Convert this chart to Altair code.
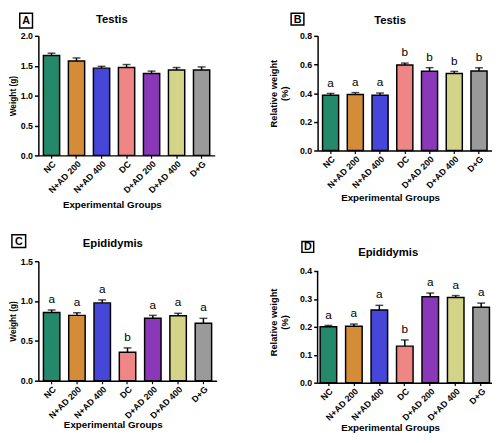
import altair as alt
import pandas as pd

FONT = "Liberation Sans"

groups = ["NC", "N+AD 200", "N+AD 400", "DC", "D+AD 200", "D+AD 400", "D+G"]

# Panel A: Testis weight (g)
a_mean = [1.67, 1.58, 1.46, 1.47, 1.37, 1.43, 1.43]
a_err = [0.04, 0.05, 0.03, 0.05, 0.04, 0.04, 0.05]
a_sig = ["", "", "", "", "", "", ""]

# Panel B: Testis relative weight (%)
b_mean = [0.386, 0.391, 0.386, 0.597, 0.553, 0.537, 0.555]
b_err = [0.012, 0.013, 0.015, 0.013, 0.025, 0.015, 0.022]
b_sig = ["a", "a", "a", "b", "b", "b", "b"]

# Panel C: Epididymis weight (g)
c_mean = [0.857, 0.820, 0.977, 0.358, 0.783, 0.816, 0.721]
c_err = [0.030, 0.033, 0.037, 0.054, 0.037, 0.030, 0.062]
c_sig = ["a", "a", "a", "b", "a", "a", "a"]

# Panel D: Epididymis relative weight (%)
d_mean = [0.200, 0.202, 0.260, 0.131, 0.308, 0.305, 0.270]
d_err = [0.005, 0.008, 0.017, 0.022, 0.013, 0.007, 0.015]
d_sig = ["a", "a", "a", "b", "a", "a", "a"]

colors_light = ["#23896a", "#d48c38", "#4646d8", "#f08585", "#8a38b8", "#d4d488", "#9a9a9a"]
colors_red = ["#23896a", "#d48c38", "#4646d8", "#e53935", "#8a38b8", "#d4d488", "#9a9a9a"]

panel_titles = ["Testis", "Testis", "Epididymis", "Epididymis"]
panel_letters = ["A", "B", "C", "D"]
y_titles = ["Weight (g)", ["Relative weight", "(%)"], "Weight (g)", ["Relative weight", "(%)"]]
x_title = "Experimental Groups"


def make_panel(mean, err, sig, colors, yvals, ytitle, ytsize, ytpad, title, letter,
               w, h, tpos, box, xty, top_extra=0, pad_outer=0.2):
    df = pd.DataFrame({"group": groups, "mean": mean, "err": err, "sig": sig})
    df["hi"] = df["mean"] + df["err"]
    ymax = yvals[-1]
    dtop = ymax * h / (h - top_extra)
    base = alt.Chart(df)
    xenc = alt.X(
        "group:N", sort=groups,
        scale=alt.Scale(paddingInner=0.35, paddingOuter=pad_outer),
        axis=alt.Axis(
            title=x_title, labelAngle=-45, labelOverlap=False,
            labelFontSize=9, labelFontWeight="bold", labelPadding=1,
            tickSize=3, tickWidth=1.2, tickColor="black",
            domainColor="black", domainWidth=1.5,
            titleFontSize=10, titleFontWeight="bold",
            titleX=w / 2 - 15, titleY=xty, titleBaseline="alphabetic",
            titleAlign="center",
        ),
    )
    yenc = alt.Y(
        "mean:Q",
        scale=alt.Scale(domain=[0, dtop], nice=False, zero=True),
        axis=alt.Axis(
            values=yvals, tickCount=len(yvals) + 2, format=".1f", title=ytitle, grid=False,
            labelOverlap=False, labelFlush=False,
            domain=(top_extra == 0), domainColor="black", domainWidth=1.5,
            tickSize=4, tickWidth=1.5, tickColor="black",
            labelFontSize=9, labelFontWeight="bold", labelPadding=2,
            titleFontSize=ytsize, titleFontWeight="bold", titlePadding=ytpad,
        ),
    )
    bars = base.mark_bar(stroke="black", strokeWidth=1.5).encode(
        x=xenc, y=yenc,
        fill=alt.Fill("group:N", scale=alt.Scale(domain=groups, range=colors), legend=None),
    )
    xs = alt.X("group:N", sort=groups)
    errs = base.mark_rule(color="black", strokeWidth=1.5).encode(x=xs, y="mean:Q", y2="hi:Q")
    caps = base.mark_tick(color="black", thickness=1.5, size=8).encode(x=xs, y="hi:Q")
    layers = [bars, errs, caps]
    if any(sig):
        layers.append(
            base.mark_text(baseline="bottom", dy=-4, fontSize=12, font=FONT, color="black")
            .encode(x=xs, y="hi:Q", text="sig:N")
        )
    if top_extra:
        axdf = pd.DataFrame({"lo": [yvals[0]], "top": [ymax]})
        layers.append(
            alt.Chart(axdf).mark_rule(color="black", strokeWidth=1.5)
            .encode(x=alt.value(0), y="lo:Q", y2="top:Q")
        )
    ann = alt.Chart(pd.DataFrame({"title": [title], "letter": [letter]}))
    layers.append(
        ann.mark_text(fontSize=11.5, fontWeight="bold", font=FONT, align="center",
                      baseline="alphabetic", color="black")
        .encode(x=alt.value(tpos[0]), y=alt.value(tpos[1]), text="title:N")
    )
    layers.append(
        ann.mark_rect(fill="white", stroke="black", strokeWidth=1.5)
        .encode(x=alt.value(box[0]), x2=alt.value(box[1]), y=alt.value(box[2]), y2=alt.value(box[3]))
    )
    layers.append(
        ann.mark_text(fontSize=11, fontWeight="bold", font=FONT, align="center",
                      baseline="middle", color="black")
        .encode(x=alt.value((box[0] + box[1]) / 2), y=alt.value((box[2] + box[3]) / 2 + 0.5),
                text="letter:N")
    )
    return alt.layer(*layers).properties(width=w, height=h)


pA = make_panel(a_mean, a_err, a_sig, colors_light, [0.0, 0.5, 1.0, 1.5, 2.0],
                y_titles[0], 8.5, 3, panel_titles[0], panel_letters[0],
                180, 122, (75, -13), (-19, -6, -23, -8), 53)
pB = make_panel(b_mean, b_err, b_sig, colors_red, [0.0, 0.2, 0.4, 0.6, 0.8],
                y_titles[1], 9.5, 10, panel_titles[1], panel_letters[1],
                178, 117, (74, -12), (-27, -14, -23, -11), 51)
pC = make_panel(c_mean, c_err, c_sig, colors_light, [0.0, 0.5, 1.0, 1.5],
                y_titles[2], 8.5, 3, panel_titles[2], panel_letters[2],
                182, 122, (76, -15), (-27, -13, -27, -14), 48)
pD = make_panel(d_mean, d_err, d_sig, colors_red, [0.0, 0.1, 0.2, 0.3, 0.4],
                y_titles[3], 9.5, 10, panel_titles[3], panel_letters[3],
                178, 124, (72, -5), (-16, -4, -20, -9), 49, top_extra=10, pad_outer=0.1)

chart = alt.concat(
    pA, pB, pC, pD, columns=2,
    spacing={"row": 108, "column": 103},
    bounds="flush", align="none",
).properties(
    padding=0
).configure_view(
    stroke=None
).configure_axis(
    labelFont=FONT, titleFont=FONT, labelColor="black", titleColor="black"
)

chart.save("out.html", embed_options={"renderer": "svg", "actions": False})
